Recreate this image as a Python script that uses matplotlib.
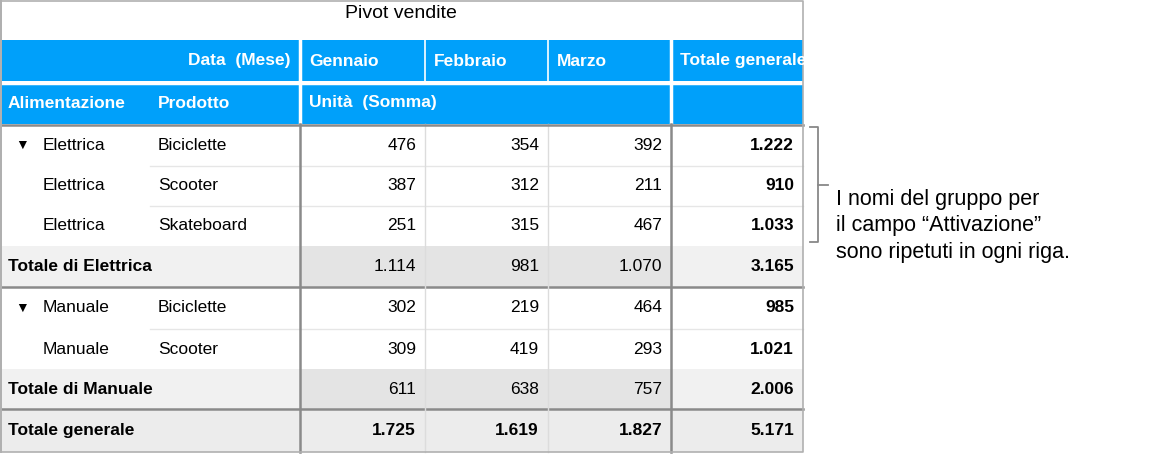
import matplotlib.pyplot as plt
from matplotlib.patches import Rectangle

plt.rcParams["font.family"] = ["Liberation Sans", "DejaVu Sans"]

months = ["Gennaio", "Febbraio", "Marzo"]
row_groups = ["Elettrica", "Elettrica", "Elettrica", None, "Manuale", "Manuale", None, None]
row_products = ["Biciclette", "Scooter", "Skateboard", None, "Biciclette", "Scooter", None, None]
row_labels = [None, None, None, "Totale di Elettrica", None, None, "Totale di Manuale", "Totale generale"]
row_kind = ["data", "data", "data", "sub", "data", "data", "sub", "grand"]
values = [
    ["476", "354", "392", "1.222"],
    ["387", "312", "211", "910"],
    ["251", "315", "467", "1.033"],
    ["1.114", "981", "1.070", "3.165"],
    ["302", "219", "464", "985"],
    ["309", "419", "293", "1.021"],
    ["611", "638", "757", "2.006"],
    ["1.725", "1.619", "1.827", "5.171"],
]
note = "I nomi del gruppo per\nil campo \u201cAttivazione\u201d\nsono ripetuti in ogni riga."

BLUE = "#00a0fa"
W, H = 1172, 454
col_x = [0, 300, 425, 548, 671, 803]
row_y = [124, 166, 206, 246, 287, 329, 369, 409, 452]

fig = plt.figure(figsize=(W / 100, H / 100), dpi=100)
ax = fig.add_axes([0, 0, 1, 1])
ax.set_xlim(0, W)
ax.set_ylim(H, 0)
ax.axis("off")

ax.text(401, 14, "Pivot vendite", ha="center", va="center", fontsize=14)

# header
ax.add_patch(Rectangle((0, 40), 803, 41, color=BLUE, lw=0))
ax.add_patch(Rectangle((0, 84), 803, 40, color=BLUE, lw=0))
ax.plot([0, 803], [82.5, 82.5], color="white", lw=2.5)
for x in col_x[1:5]:
    ax.plot([x, x], [40, 82], color="white", lw=1.2 if x not in (300, 671) else 2.5)
ax.plot([300, 300], [82, 124], color="white", lw=2.5)
ax.plot([671, 671], [82, 124], color="white", lw=2.5)

hfont = dict(color="white", fontsize=12.5, fontweight="bold", va="center")
ax.text(291, 61, "Data  (Mese)", ha="right", **hfont)
for i, m in enumerate(months + ["Totale generale"]):
    t = ax.text(col_x[i + 1] + 9, 61, m, ha="left", **hfont)
    t.set_clip_path(Rectangle((0, 0), 803, H, transform=ax.transData))
ax.text(8, 103, "Alimentazione", ha="left", **hfont)
ax.text(158, 103, "Prodotto", ha="left", **hfont)
ax.text(309, 103, "Unità  (Somma)", ha="left", **hfont)

# body
for r, kind in enumerate(row_kind):
    y0, y1 = row_y[r], row_y[r + 1]
    yc = (y0 + y1) / 2
    bold = kind == "grand"
    if kind == "sub":
        ax.add_patch(Rectangle((0, y0), 300, y1 - y0, color="#f1f1f1", lw=0))
        ax.add_patch(Rectangle((300, y0), 371, y1 - y0, color="#e4e4e4", lw=0))
        ax.add_patch(Rectangle((671, y0), 132, y1 - y0, color="#f1f1f1", lw=0))
    elif kind == "grand":
        ax.add_patch(Rectangle((0, y0), 803, y1 - y0, color="#ececec", lw=0))
    if row_labels[r]:
        ax.text(8, yc, row_labels[r], ha="left", va="center", fontsize=12.5,
                fontweight="bold" if kind in ("sub", "grand") else "normal")
    else:
        ax.text(43, yc, row_groups[r], ha="left", va="center", fontsize=12.5)
        ax.text(158, yc, row_products[r], ha="left", va="center", fontsize=12.5)
        if row_products[r] == "Biciclette":
            ax.text(22, yc, "\u25bc", ha="center", va="center", fontsize=10)
    for c, v in enumerate(values[r]):
        ax.text(col_x[c + 2] - 9, yc, v, ha="right", va="center", fontsize=12.5,
                fontweight="bold" if (bold or c == 3) else "normal")
    # row separators
    if kind == "data" and row_kind[r + 1] == "data":
        ax.plot([150, 803], [y1, y1], color="#e6e6e6", lw=1)

for y in (287, 409):
    ax.plot([0, 803], [y, y], color="#8a8a8a", lw=1.8)
for x in col_x[2:4]:
    ax.plot([x, x], [124, 452], color="#dcdcdc", lw=1)
for x in (300, 671):
    ax.plot([x, x], [124, 452], color="#8a8a8a", lw=1.8)
ax.plot([0, 803], [124.5, 124.5], color="#8a8a8a", lw=1.8)

# frame
ax.plot([1, 1, 803, 803, 1, 1], [452, 1, 1, 452, 452, 1], color="#b0b0b0", lw=1.2)

# bracket and note
ax.plot([810, 818, 818, 810], [127, 127, 242, 242], color="#888888", lw=1.3)
ax.plot([818, 828], [185, 185], color="#888888", lw=1.3)
ax.text(836, 226, note, ha="left", va="center", fontsize=15.5, linespacing=1.35,
        family=["Liberation Sans", "DejaVu Sans"])

fig.savefig("out.png", dpi=100)
